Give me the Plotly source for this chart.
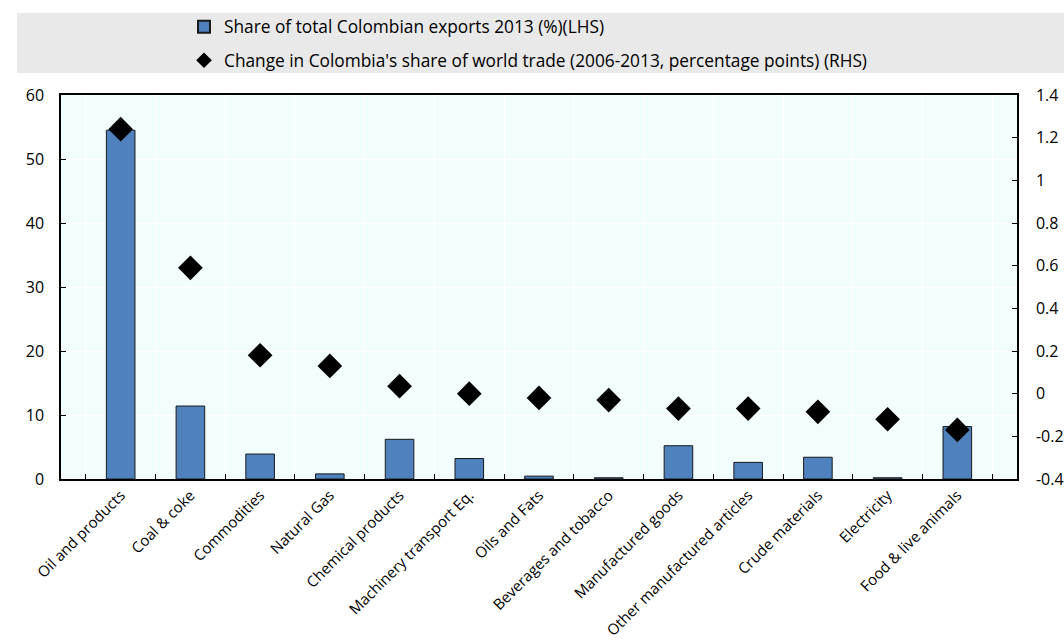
import plotly.graph_objects as go

categories = ["Oil and products", "Coal & coke", "Commodities", "Natural Gas", "Chemical products",
              "Machinery transport Eq.", "Oils and Fats", "Beverages and tobacco", "Manufactured goods",
              "Other manufactured articles", "Crude materials", "Electricity", "Food & live animals"]
share_exports = [54.5, 11.4, 3.9, 0.8, 6.2, 3.2, 0.45, 0.2, 5.2, 2.6, 3.4, 0.2, 8.2]
change_share = [1.24, 0.59, 0.18, 0.13, 0.035, 0.0, -0.02, -0.03, -0.07, -0.07, -0.085, -0.12, -0.17]

left_ticks = [0, 10, 20, 30, 40, 50, 60]
right_ticks = [-0.4, -0.2, 0, 0.2, 0.4, 0.6, 0.8, 1, 1.2, 1.4]
right_labels = ["-0.4", "-0.2", "0", "0.2", "0.4", "0.6", "0.8", "1", "1.2", "1.4"]

FONT = "Open Sans"

fig = go.Figure()
fig.add_trace(go.Bar(
    x=categories, y=share_exports, name="Share of total Colombian exports 2013 (%)(LHS)",
    marker=dict(color="#4f81bd", line=dict(color="#1a1a1a", width=1)),
    width=0.41, legendgroup="a", yaxis="y"))
fig.add_trace(go.Scatter(
    x=categories, y=change_share, mode="markers",
    name="Change in Colombia's share of world trade (2006-2013, percentage points) (RHS)",
    marker=dict(symbol="diamond", size=19, color="black"),
    legendgroup="b", yaxis="y2"))

fig.update_layout(
    width=1064, height=641,
    margin=dict(l=61, r=47, t=95, b=162, autoexpand=False),
    paper_bgcolor="white", plot_bgcolor="#f2fdfd",
    font=dict(family=FONT, size=13, color="black"),
    showlegend=True,
    legend=dict(x=(184 - 61) / 956, y=(479 - 9) / 384, xanchor="left", yanchor="top",
                bgcolor="rgba(0,0,0,0)", tracegroupgap=8, font=dict(size=17.3),
                itemwidth=30, itemsizing="constant"),
    shapes=[dict(type="rect", xref="paper", yref="paper",
                 x0=(17 - 61) / 956, x1=(1064 - 61) / 956,
                 y0=(479 - 73) / 384, y1=(479 - 13) / 384,
                 fillcolor="#e9e9e9", line=dict(width=0), layer="below")],
    xaxis=dict(type="category", tickangle=-45, tickson="boundaries", ticks="inside", ticklen=5,
               tickcolor="black", showline=True, linecolor="black", linewidth=1.5, mirror=True,
               showgrid=True, gridcolor="white", gridwidth=1, tickfont=dict(size=15),
               automargin=False),
    yaxis=dict(range=[0, 60], tickvals=left_ticks, ticks="inside", ticklen=5, tickcolor="black",
               showline=True, linecolor="black", linewidth=1.5, showgrid=True, gridcolor="white",
               zeroline=False, tickfont=dict(size=16), ticklabelstandoff=12, automargin=False),
    yaxis2=dict(range=[-0.4, 1.4], overlaying="y", side="right", tickvals=right_ticks,
                ticktext=right_labels, ticks="inside", ticklen=5, tickcolor="black",
                showline=True, linecolor="black", linewidth=1.5, showgrid=False, zeroline=False,
                tickfont=dict(size=16), ticklabelstandoff=14, automargin=False),
)

fig.write_html("out.html", config={"displayModeBar": False},
               post_script="document.body.style.margin='0';")
